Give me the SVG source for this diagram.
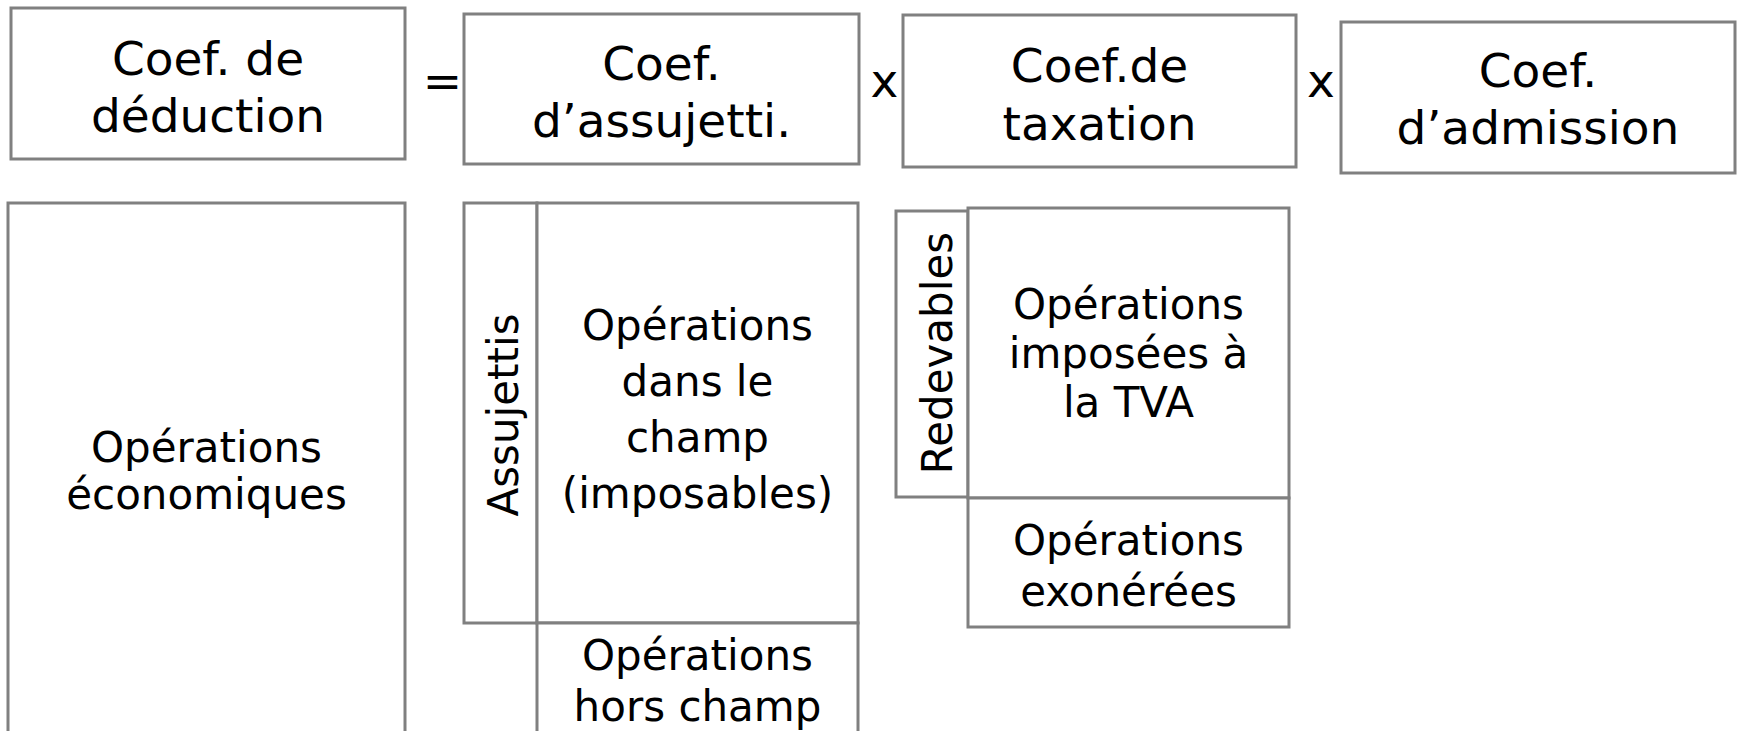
<svg xmlns="http://www.w3.org/2000/svg" width="1737" height="731" viewBox="0 0 1737 731">
<style>
  .box { fill: #ffffff; stroke: #808080; stroke-width: 3; }
  .t { font-family: "DejaVu Sans", Verdana, sans-serif; fill: #000000; text-anchor: middle; }
  .big { font-size: 47px; }
  .med { font-size: 42px; }
</style>
<rect x="0" y="0" width="1737" height="731" fill="#ffffff"/>

<g id="coef-deduction">
  <rect class="box" x="11" y="8" width="394" height="151"/>
  <text class="t big" x="208" y="75">Coef. de</text>
  <text class="t big" x="208" y="132">déduction</text>
</g>
<g id="op-equals">
  <text class="t big" x="442.5" y="97">=</text>
</g>
<g id="coef-assujetti">
  <rect class="box" x="464" y="14" width="395" height="150"/>
  <text class="t big" x="661.5" y="80">Coef.</text>
  <text class="t big" x="661.5" y="137">d’assujetti.</text>
</g>
<g id="op-times-1">
  <text class="t big" x="884.5" y="97">x</text>
</g>
<g id="coef-taxation">
  <rect class="box" x="903" y="15" width="393" height="152"/>
  <text class="t big" x="1099.5" y="82">Coef.de</text>
  <text class="t big" x="1099.5" y="140">taxation</text>
</g>
<g id="op-times-2">
  <text class="t big" x="1321" y="97">x</text>
</g>
<g id="coef-admission">
  <rect class="box" x="1341" y="22" width="394" height="151"/>
  <text class="t big" x="1538" y="87">Coef.</text>
  <text class="t big" x="1538" y="144">d’admission</text>
</g>

<g id="operations-economiques">
  <rect class="box" x="8" y="203" width="397" height="540"/>
  <text class="t med" x="206.5" y="462">Opérations</text>
  <text class="t med" x="206.5" y="509">économiques</text>
</g>
<g id="assujettis">
  <rect class="box" x="464" y="203" width="73" height="420"/>
  <text class="t med" transform="translate(518 415) rotate(-90)" x="0" y="0">Assujettis</text>
</g>
<g id="operations-dans-le-champ">
  <rect class="box" x="537" y="203" width="321" height="420"/>
  <text class="t med" x="697.5" y="340">Opérations</text>
  <text class="t med" x="697.5" y="396">dans le</text>
  <text class="t med" x="697.5" y="452">champ</text>
  <text class="t med" x="697.5" y="508">(imposables)</text>
</g>
<g id="operations-hors-champ">
  <rect class="box" x="537" y="623" width="321" height="130"/>
  <text class="t med" x="697.5" y="670">Opérations</text>
  <text class="t med" x="697.5" y="721">hors champ</text>
</g>
<g id="redevables">
  <rect class="box" x="896" y="211" width="72" height="286"/>
  <text class="t med" transform="translate(952 353) rotate(-90)" x="0" y="0">Redevables</text>
</g>
<g id="operations-imposees">
  <rect class="box" x="968" y="208" width="321" height="290"/>
  <text class="t med" x="1128.5" y="319">Opérations</text>
  <text class="t med" x="1128.5" y="368">imposées à</text>
  <text class="t med" x="1128.5" y="417">la TVA</text>
</g>
<g id="operations-exonerees">
  <rect class="box" x="968" y="498" width="321" height="129"/>
  <text class="t med" x="1128.5" y="555">Opérations</text>
  <text class="t med" x="1128.5" y="606">exonérées</text>
</g>

<g id="connectors"></g>
</svg>
